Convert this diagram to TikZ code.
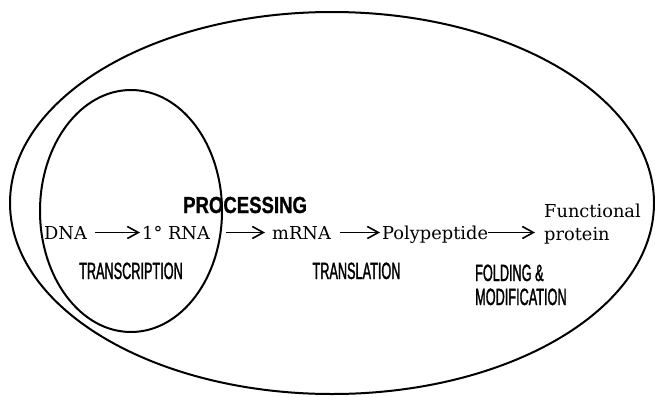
\documentclass[tikz,border=0pt]{standalone}
\usepackage{fontspec}
\setmainfont{DejaVu Serif}
\newfontfamily\labfont[FakeStretch=0.54,FakeBold=1.3]{Liberation Sans}
\newfontfamily\procfont[FakeStretch=0.8,FakeBold=1]{Liberation Sans}
\usetikzlibrary{arrows.meta}
\begin{document}
\begin{tikzpicture}[x=1pt,y=-1pt,
  ring/.style={draw, line width=2pt},
  serif/.style={font=\fontsize{17.8}{23}\selectfont, inner sep=0pt, anchor=base west},
  lab/.style={font=\labfont\fontsize{23.5}{24}\selectfont, inner sep=0pt},
  flow/.style={line width=1.4pt, -{Straight Barb[length=11pt,width=12pt,line width=1.6pt]}}]
\useasboundingbox (0,0) rectangle (655,396);
\draw[ring] (332,203) ellipse [x radius=322, y radius=191];
\draw[ring] (131,211) ellipse [x radius=91, y radius=121];
\node[font=\procfont\bfseries\fontsize{23.2}{24}\selectfont, inner sep=0pt, anchor=base west] (proc) at (183,213) {PROCESSING};
\node[serif] (dna) at (44,239) {DNA};
\node[serif] (rna1) at (142,239) {1° RNA};
\node[serif] (mrna) at (272,239) {mRNA};
\node[serif] (poly) at (382,239) {Polypeptide};
\node[serif, align=left] (fp) at (544,240) {Functional\\protein};
\draw[flow] ([shift={(8,-6.5)}]dna.base east) -- ([shift={(-2,-6.5)}]rna1.base west);
\draw[flow] ([shift={(16,-6.5)}]rna1.base east) -- ([shift={(-7,-6.5)}]mrna.base west);
\draw[flow] ([shift={(9,-6.5)}]mrna.base east) -- ([shift={(-2,-6.5)}]poly.base west);
\draw[flow, shorten >=9pt] ([yshift=6.5pt]poly.base east) -- ([yshift=6.5pt]poly.base east -| fp.west);
\node[lab, anchor=base] (tc) at (131,279) {TRANSCRIPTION};
\node[lab, anchor=base] (tl) at (356.5,279) {TRANSLATION};
\node[lab, anchor=base west, align=left] (fm) at (475,305) {FOLDING \&\\MODIFICATION};
\end{tikzpicture}
\end{document}
